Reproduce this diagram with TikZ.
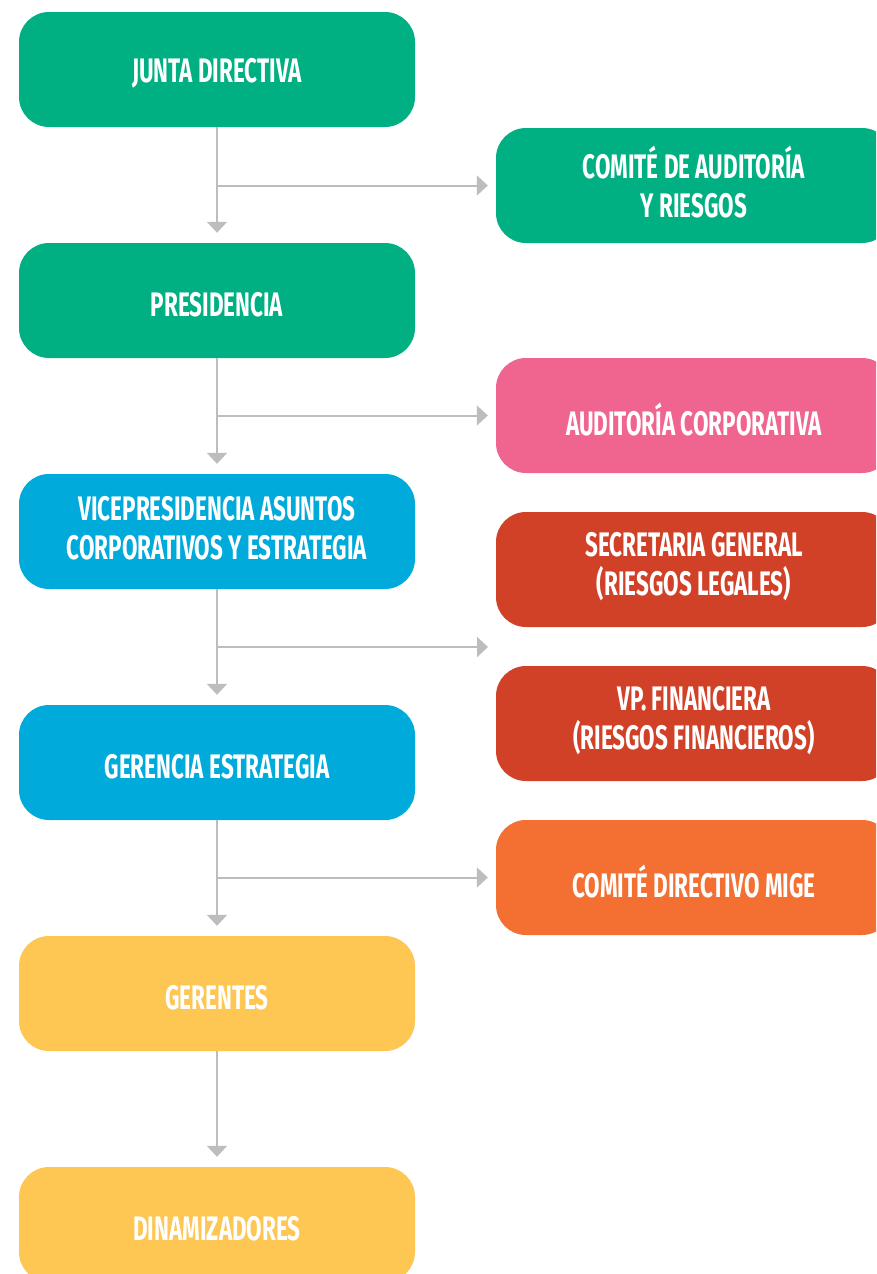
\documentclass[tikz,border=0pt]{standalone}
\usepackage{fontspec}
\setmainfont[FakeStretch=0.66]{Fira Sans}
\usetikzlibrary{arrows.meta}
\definecolor{cgreen}{HTML}{00B082}
\definecolor{cpink}{HTML}{F06490}
\definecolor{cblue}{HTML}{00AADB}
\definecolor{cred}{HTML}{D14128}
\definecolor{corange}{HTML}{F37032}
\definecolor{cyellow}{HTML}{FEC652}
\definecolor{cline}{HTML}{BDBDBF}
\tikzset{
  box/.style={rounded corners=30pt, minimum width=396pt, minimum height=115pt,
    inner sep=0pt},
  lbl/.style={inner sep=0pt, align=center, text=white,
    font=\fontsize{34}{39}\selectfont\bfseries},
  one/.style={lbl, yshift=-4pt},
  two/.style={lbl, yshift=3pt},
  conn/.style={draw=cline, line width=2pt,
    -{Triangle[width=20pt,length=11pt]}},
}
\begin{document}
\begin{tikzpicture}[x=1pt,y=-1pt]
\clip (0,0) rectangle (876,1274);
\fill[white] (0,0) rectangle (876,1274);
% left column
\node[box, fill=cgreen] (l1) at (217,69.5) {};
\node[box, fill=cgreen] (l2) at (217,300.5) {};
\node[box, fill=cblue] (l3) at (217,531.5) {};
\node[box, fill=cblue] (l4) at (217,762.5) {};
\node[box, fill=cyellow] (l5) at (217,993.5) {};
\node[box, fill=cyellow] (l6) at (217,1224.5) {};
\node[one] (t1) at (l1) {JUNTA DIRECTIVA};
\node[one] (t2) at (l2) {PRESIDENCIA};
\node[two] (t3) at (l3) {VICEPRESIDENCIA ASUNTOS\\CORPORATIVOS Y ESTRATEGIA};
\node[one] (t4) at (l4) {GERENCIA ESTRATEGIA};
\node[one] (t5) at (l5) {GERENTES};
\node[one] (t6) at (l6) {DINAMIZADORES};
% right column
\node[box, fill=cgreen] (r1) at (694,185.5) {};
\node[box, fill=cpink] (r2) at (694,415.5) {};
\node[box, fill=cred] (r3) at (694,569.5) {};
\node[box, fill=cred] (r4) at (694,723.5) {};
\node[box, fill=corange] (r5) at (694,877.5) {};
\node[two] (s1) at (r1) {COMITÉ DE AUDITORÍA\\Y RIESGOS};
\node[one] (s2) at (r2) {AUDITORÍA CORPORATIVA};
\node[two] (s3) at (r3) {SECRETARIA GENERAL\\(RIESGOS LEGALES)};
\node[two] (s4) at (r4) {VP. FINANCIERA\\(RIESGOS FINANCIEROS)};
\node[one] (s5) at (r5) {COMITÉ DIRECTIVO MIGE};
\coordinate (m34) at (496,647);
% vertical connectors
\draw[conn, shorten >=10pt] (l1.south) -- (l2.north);
\draw[conn, shorten >=10pt] (l2.south) -- (l3.north);
\draw[conn, shorten >=10pt] (l3.south) -- (l4.north);
\draw[conn, shorten >=10pt] (l4.south) -- (l5.north);
\draw[conn, shorten >=10pt] (l5.south) -- (l6.north);
% branches
\draw[conn, shorten >=8pt] (l1.south |- r1.west) -- (r1.west);
\draw[conn, shorten >=8pt] (l2.south |- r2.west) -- (r2.west);
\draw[conn, shorten >=8pt] (l3.south |- m34) -- (m34);
\draw[conn, shorten >=8pt] (l4.south |- r5.west) -- (r5.west);
\end{tikzpicture}
\end{document}
